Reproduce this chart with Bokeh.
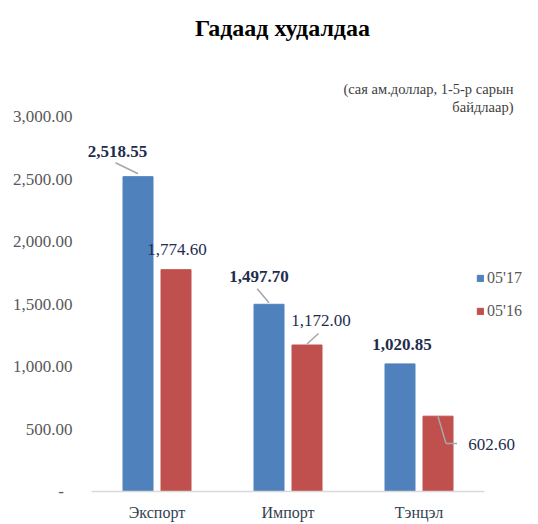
from bokeh.plotting import figure
from bokeh.models import (ColumnDataSource, Range1d, FixedTicker,
                          NumeralTickFormatter, LabelSet, Label, Legend, LegendItem)
from bokeh.embed import file_html
from bokeh.resources import INLINE

# ---- data ----
categories = ["Экспорт", "Импорт", "Тэнцэл"]
series_names = ["05'17", "05'16"]
values_2017 = [2518.55, 1497.70, 1020.85]
values_2016 = [1774.60, 1172.00, 602.60]
labels_2017 = ["2,518.55", "1,497.70", "1,020.85"]
labels_2016 = ["1,774.60", "1,172.00", "602.60"]
y_ticks = [0, 500, 1000, 1500, 2000, 2500, 3000]
title_text = "Гадаад худалдаа"
subtitle_lines = ["(сая ам.доллар, 1-5-р сарын", "байдлаар)"]

# ---- layout ----
W, H = 538, 524
AX_LEFT = 91             # pixel where category axis starts
FL, FB = 78, 33          # frame left / bottom border in px
PX_PER_CAT = 131.0
PX_Y = 8.0               # data units per pixel (vertical)
CAT_PER_PX = 1.0 / PX_PER_CAT
DODGE = 19 * CAT_PER_PX
BAR_W = 30 * CAT_PER_PX
FRAME_BOTTOM = H - FB

FONT = "Liberation Serif"
BLUE, RED = "#4F81BD", "#C0504D"
LABEL_COL = "#1F2D4D"
GRAY_TXT = "#595959"


def xd(px):
    return (px - AX_LEFT) * CAT_PER_PX


def yd(py):
    return (FRAME_BOTTOM - py) * PX_Y


cat_pos = [i + 0.5 for i in range(len(categories))]

p = figure(width=W, height=H,
           x_range=Range1d(xd(FL), xd(W)),
           y_range=Range1d(0, FRAME_BOTTOM * PX_Y),
           output_backend="svg", toolbar_location=None,
           min_border_left=FL, min_border_right=0,
           min_border_bottom=FB, min_border_top=0)
p.outline_line_color = None
p.grid.grid_line_color = None
p.background_fill_color = "white"
p.border_fill_color = "white"

x17 = [c - DODGE for c in cat_pos]
x16 = [c + DODGE for c in cat_pos]
src = ColumnDataSource(dict(cat=categories, x17=x17, x16=x16,
                            v17=values_2017, v16=values_2016))
r17 = p.vbar(x="x17", top="v17", width=BAR_W, source=src,
             fill_color=BLUE, line_color=BLUE)
r16 = p.vbar(x="x16", top="v16", width=BAR_W, source=src,
             fill_color=RED, line_color=RED)

# ---- axes ----
ya = p.yaxis[0]
ya.ticker = FixedTicker(ticks=y_ticks)
ya.formatter = NumeralTickFormatter(format="0,0.00")
ya.major_label_overrides = {0: "-\u00a0\u00a0"}
ya.axis_line_color = None
ya.major_tick_line_color = None
ya.minor_tick_line_color = None
ya.major_tick_out = 0
ya.major_label_standoff = FL - 72
ya.major_label_text_font = FONT
ya.major_label_text_font_size = "17px"
ya.major_label_text_color = GRAY_TXT

xa = p.xaxis[0]
xa.ticker = FixedTicker(ticks=cat_pos)
xa.major_label_overrides = {c: n for c, n in zip(cat_pos, categories)}
xa.bounds = (0, len(categories))
xa.axis_line_color = "#D9D9D9"
xa.axis_line_width = 1.5
xa.major_tick_line_color = None
xa.minor_tick_line_color = None
xa.major_tick_out = 0
xa.major_label_standoff = 12
xa.major_label_text_font = FONT
xa.major_label_text_font_size = "16px"
xa.major_label_text_color = "#333F50"

# ---- data labels (offsets in px relative to bar top centre, up positive) ----
off17 = [(-20.5, 25.5), (-10, 27.8), (2, 19.4)]
off16 = [(1, 20.2), (14, 24.5), (53.5, -28.3)]

lab17 = ColumnDataSource(dict(
    x=[x17[i] + off17[i][0] * CAT_PER_PX for i in range(3)],
    y=[values_2017[i] + off17[i][1] * PX_Y for i in range(3)],
    t=labels_2017))
lab16 = ColumnDataSource(dict(
    x=[x16[i] + off16[i][0] * CAT_PER_PX for i in range(3)],
    y=[values_2016[i] + off16[i][1] * PX_Y for i in range(3)],
    t=labels_2016))
p.add_layout(LabelSet(x="x", y="y", text="t", source=lab17, text_align="center",
                      text_baseline="middle", text_font=FONT, text_font_size="17px",
                      text_font_style="bold", text_color=LABEL_COL))
p.add_layout(LabelSet(x="x", y="y", text="t", source=lab16, text_align="center",
                      text_baseline="middle", text_font=FONT, text_font_size="17px",
                      text_color=LABEL_COL))

# ---- leader lines ----
leaders = [  # (series, index, dx0, dy0, dx1, dy1) px relative to bar top centre
    (-1, 0, -22.5, 13.9, 0, 2.9),
    (-1, 1, -11.8, 15.5, 0, 1.5),
    (1, 1, 0, 1, 11.5, 11.5),
    (1, 2, 0, -0.3, 8, -27.3),
    (1, 2, 8, -27.3, 19, -27.3),
]
seg = dict(x0=[], y0=[], x1=[], y1=[])
for s, i, dx0, dy0, dx1, dy1 in leaders:
    v = values_2017[i] if s < 0 else values_2016[i]
    bx = x17[i] if s < 0 else x16[i]
    seg["x0"].append(bx + dx0 * CAT_PER_PX)
    seg["y0"].append(v + dy0 * PX_Y)
    seg["x1"].append(bx + dx1 * CAT_PER_PX)
    seg["y1"].append(v + dy1 * PX_Y)
p.segment(x0="x0", y0="y0", x1="x1", y1="y1", source=ColumnDataSource(seg),
          line_color="#A6A6A6", line_width=1.5)

# ---- title & subtitle ----
p.add_layout(Label(x=xd(282), y=yd(27), text=title_text, text_align="center",
                   text_baseline="middle", text_font=FONT, text_font_size="24px",
                   text_font_style="bold", text_color="black"))
for k, line in enumerate(subtitle_lines):
    p.add_layout(Label(x=xd(513), y=yd(88 + 18 * k), text=line, text_align="right",
                       text_baseline="middle", text_font=FONT, text_font_size="14.5px",
                       text_color="#404040"))

# ---- legend ----
legend = Legend(items=[LegendItem(label=series_names[0], renderers=[r17]),
                       LegendItem(label=series_names[1], renderers=[r16])],
                location=(476 - FL, 171), orientation="vertical",
                glyph_width=8, glyph_height=8, label_height=8, label_width=20,
                label_standoff=3, spacing=15, padding=0, margin=0,
                border_line_color=None, background_fill_alpha=0,
                label_text_font=FONT, label_text_font_size="16px",
                label_text_color=GRAY_TXT)
p.add_layout(legend)

open("out.html", "w").write(file_html(p, INLINE))
